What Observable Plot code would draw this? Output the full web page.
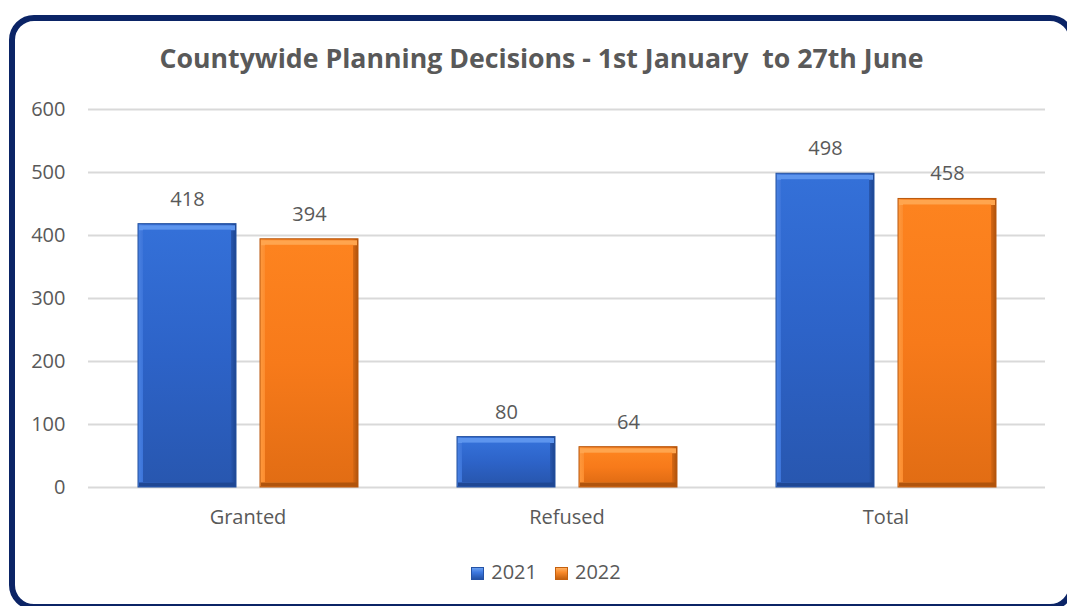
<!DOCTYPE html>
<html>
<head>
<meta charset="utf-8">
<script src="https://cdn.jsdelivr.net/npm/d3@7"></script>
<script src="https://cdn.jsdelivr.net/npm/@observablehq/plot@0.6"></script>
<style>
  html, body { margin: 0; padding: 0; background: #fff; }
  #wrap { position: relative; width: 1067px; height: 606px; overflow: hidden; background: #fff; font-family: "Open Sans", sans-serif; }
  #frame { position: absolute; left: 9px; top: 15px; width: 1066px; height: 595px; box-sizing: border-box; border: 6px solid #0b2466; border-radius: 25px; pointer-events: none; }
  #title { height: 90px; box-sizing: border-box; padding-top: 41px; line-height: 34px; font-size: 26.7px; font-weight: 700; color: #595959; text-align: center; white-space: pre; width: 1083px; }
  #chart svg { display: block; }
  #legend { height: 61px; box-sizing: border-box; padding-top: 15px; line-height: 24px; font-size: 20px; color: #595959; text-align: center; width: 1092px; }
  .sw { display: inline-block; width: 13px; height: 13px; vertical-align: -1px; margin-right: 7px; box-sizing: border-box; }
  .item { display: inline-block; margin: 0 9px; }
</style>
</head>
<body>
<div id="wrap">
  <div id="title"></div>
  <div id="chart"></div>
  <div id="legend"></div>
  <div id="frame"></div>
</div>
<script>
const titleText = "Countywide Planning Decisions - 1st January  to 27th June";
const categories = ["Granted", "Refused", "Total"];
const years = ["2021", "2022"];
const values2021 = [418, 80, 498];
const values2022 = [394, 64, 458];
const yTicks = [0, 100, 200, 300, 400, 500, 600];

const palette = {
  "2021": {edge: "url(#e2021)", body: "url(#g2021)", top: "#5d95ee", bottom: "#1f4793", stroke: "#22509f"},
  "2022": {edge: "url(#e2022)", body: "url(#g2022)", top: "#ffa54e", bottom: "#b0540d", stroke: "#b9570c"}
};

const data = [];
categories.forEach((c, i) => {
  data.push({cat: c, year: years[0], value: values2021[i]});
  data.push({cat: c, year: years[1], value: values2022[i]});
});

document.getElementById("title").textContent = titleText;

const textColor = "#595959";
const svg = Plot.plot({
  width: 1067,
  height: 455,
  marginLeft: 88,
  marginRight: 22,
  marginTop: 19,
  marginBottom: 58,
  style: {fontFamily: "'Open Sans', sans-serif", fontSize: "20px", color: textColor, background: "transparent"},
  fx: {domain: categories, padding: 0, label: null},
  x: {domain: years, paddingInner: 0.2, paddingOuter: 0.4, axis: null},
  y: {domain: [0, 600], label: null},
  marks: [
    Plot.gridY(yTicks, {stroke: "#d9d9d9", strokeWidth: 2, strokeOpacity: 1}),
    Plot.axisY(yTicks, {tickSize: 0, tickPadding: 23, label: null, fill: textColor}),
    Plot.axisFx({anchor: "bottom", tickSize: 0, tickPadding: 22, label: null, fill: textColor}),
    // outer bevel (side edges)
    Plot.barY(data, {fx: "cat", x: "year", y: "value",
      fill: d => palette[d.year].edge, stroke: d => palette[d.year].stroke, strokeWidth: 1}),
    // top highlight and bottom shade strips
    Plot.tickY(data, {fx: "cat", x: "year", y: "value", dy: 3.5, strokeWidth: 5,
      stroke: d => palette[d.year].top, insetLeft: 1, insetRight: 1}),
    Plot.tickY(data, {fx: "cat", x: "year", y: 0, dy: -3, strokeWidth: 4,
      stroke: d => palette[d.year].bottom, insetLeft: 1, insetRight: 1}),
    // inner face
    Plot.barY(data, {fx: "cat", x: "year", y: "value",
      fill: d => palette[d.year].body, insetLeft: 5, insetRight: 5, insetTop: 6, insetBottom: 5}),
    Plot.text(data, {fx: "cat", x: "year", y: "value", text: d => String(d.value),
      dy: -25, lineAnchor: "middle", fill: textColor, fontSize: 20})
  ]
});

// gradients for bevelled bars
const defs = d3.select(svg).insert("defs", ":first-child");
function grad(id, stops, horizontal) {
  const g = defs.append("linearGradient").attr("id", id)
    .attr("x1", 0).attr("y1", 0).attr("x2", horizontal ? 1 : 0).attr("y2", horizontal ? 0 : 1);
  stops.forEach(([o, c]) => g.append("stop").attr("offset", o).attr("stop-color", c));
}
grad("g2021", [[0, "#3470d8"], [0.5, "#2d63c8"], [1, "#2857b0"]]);
grad("g2022", [[0, "#fd831f"], [0.5, "#f77a1a"], [1, "#e26d14"]]);
grad("e2021", [[0, "#4a82e2"], [0.06, "#3a72d8"], [0.94, "#2a5ab4"], [1, "#1d4590"]], true);
grad("e2022", [[0, "#ff9a3e"], [0.06, "#fb8a2c"], [0.94, "#e06c14"], [1, "#ad520c"]], true);

document.getElementById("chart").appendChild(svg);

const legend = d3.select("#legend");
const swatch = {
  "2021": {bg: "linear-gradient(#6aa0f0, #3d78e0 40%, #2452a6)", border: "#2452a6"},
  "2022": {bg: "linear-gradient(#ffb060, #f9892a 40%, #c4600e)", border: "#c4600e"}
};
years.forEach(y => {
  const it = legend.append("span").attr("class", "item");
  it.append("span").attr("class", "sw")
    .style("background", swatch[y].bg)
    .style("border", `1px solid ${swatch[y].border}`);
  it.append("span").text(y);
});
</script>
</body>
</html>
